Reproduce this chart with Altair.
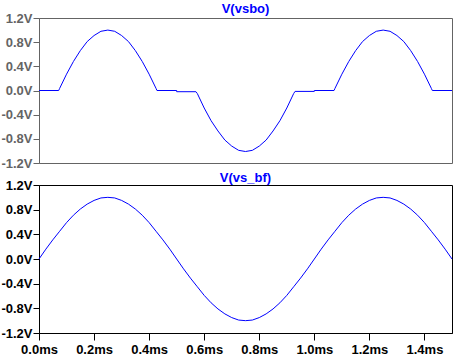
import altair as alt
import pandas as pd

# ---- data ----
# V(vs_bf): time (ms) and volts
t_bf = [0.0, 0.025, 0.05, 0.075, 0.1, 0.125, 0.15, 0.175, 0.2, 0.225,
        0.25, 0.275, 0.3, 0.325, 0.35, 0.375, 0.4, 0.425, 0.45, 0.475,
        0.5, 0.525, 0.55, 0.575, 0.6, 0.625, 0.65, 0.675, 0.7, 0.725,
        0.75, 0.775, 0.8, 0.825, 0.85, 0.875, 0.9, 0.925, 0.95, 0.975,
        1.0, 1.025, 1.05, 1.075, 1.1, 1.125, 1.15, 1.175, 1.2, 1.225,
        1.25, 1.275, 1.3, 1.325, 1.35, 1.375, 1.4, 1.425, 1.45, 1.475, 1.5]
v_bf = [0.0, 0.16, 0.31, 0.45, 0.59, 0.71, 0.81, 0.89, 0.95, 0.99,
        1.0, 0.99, 0.95, 0.89, 0.81, 0.71, 0.59, 0.45, 0.31, 0.16,
        0.0, -0.16, -0.31, -0.45, -0.59, -0.71, -0.81, -0.89, -0.95, -0.99,
        -1.0, -0.99, -0.95, -0.89, -0.81, -0.71, -0.59, -0.45, -0.31, -0.16,
        0.0, 0.16, 0.31, 0.45, 0.59, 0.71, 0.81, 0.89, 0.95, 0.99,
        1.0, 0.99, 0.95, 0.89, 0.81, 0.71, 0.59, 0.45, 0.31, 0.16, 0.0]

# V(vsbo): time (ms) and volts
t_bo = [0.0, 0.0715, 0.075, 0.1, 0.125, 0.15, 0.175, 0.2, 0.225, 0.25,
        0.275, 0.3, 0.325, 0.35, 0.375, 0.4, 0.425, 0.4285, 0.5, 0.5,
        0.57, 0.575, 0.6, 0.625, 0.65, 0.675, 0.7, 0.725, 0.75, 0.775,
        0.8, 0.825, 0.85, 0.875, 0.9, 0.925, 0.93, 1.0, 1.0, 1.0715,
        1.075, 1.1, 1.125, 1.15, 1.175, 1.2, 1.225, 1.25, 1.275, 1.3,
        1.325, 1.35, 1.375, 1.4, 1.425, 1.4285, 1.5]
v_bo = [0.0, 0.0, 0.035, 0.27, 0.48, 0.66, 0.81, 0.91, 0.98, 1.0,
        0.98, 0.91, 0.81, 0.66, 0.48, 0.27, 0.035, 0.0, 0.0, -0.02,
        -0.02, -0.05, -0.29, -0.50, -0.67, -0.82, -0.92, -0.99, -1.01, -0.99,
        -0.92, -0.82, -0.67, -0.50, -0.29, -0.05, -0.015, -0.015, 0.0, 0.0,
        0.035, 0.27, 0.48, 0.66, 0.81, 0.91, 0.98, 1.0, 0.98, 0.91,
        0.81, 0.66, 0.48, 0.27, 0.035, 0.0, 0.0]

y_ticks = [-1.2, -0.8, -0.4, 0.0, 0.4, 0.8, 1.2]
x_ticks = [0.0, 0.2, 0.4, 0.6, 0.8, 1.0, 1.2, 1.4]

df_bf = pd.DataFrame({"t": t_bf, "v": v_bf, "i": list(range(len(t_bf)))})
df_bo = pd.DataFrame({"t": t_bo, "v": v_bo, "i": list(range(len(t_bo)))})

FONT = "Liberation Sans"
GRAY = "#646464"
BLUE = "#0000ff"
ylabel = "(datum.value < 0 ? '-' : '') + format(abs(datum.value), '.1f') + 'V'"
xlabel = "format(datum.value, '.1f') + 'ms'"

xscale = alt.Scale(domain=[0, 1.5], nice=False, zero=False)
yscale = alt.Scale(domain=[-1.2, 1.2], nice=False, zero=False)


def yaxis(color):
    return alt.Axis(values=y_ticks, labelExpr=ylabel, title=None, grid=False,
                    domainColor=color, tickColor=color, labelColor=color,
                    tickSize=6, labelPadding=1, labelFont=FONT, labelFontSize=13,
                    labelFontWeight="bold", labelFlush=False, labelOverlap=False)


def title(text, off):
    return alt.TitleParams(text, color=BLUE, font=FONT, fontSize=13,
                           fontWeight="bold", offset=off, anchor="middle")


top = alt.Chart(df_bo).mark_line(color=BLUE, strokeWidth=1).encode(
    x=alt.X("t:Q", scale=xscale, axis=None),
    y=alt.Y("v:Q", scale=yscale, axis=yaxis(GRAY)),
    order="i:Q",
).properties(width=413, height=145, title=title("V(vsbo)", -4),
             view=alt.ViewBackground(stroke=GRAY, strokeWidth=1))

bottom = alt.Chart(df_bf).mark_line(color=BLUE, strokeWidth=1).encode(
    x=alt.X("t:Q", scale=xscale,
            axis=alt.Axis(values=x_ticks, labelExpr=xlabel, title=None, grid=False,
                          domainColor="black", tickColor="black", labelColor="black",
                          tickSize=7, labelPadding=3, labelFont=FONT, labelFontSize=13,
                          labelFontWeight="bold", labelFlush=False, labelOverlap=False)),
    y=alt.Y("v:Q", scale=yscale, axis=yaxis("black")),
    order="i:Q",
).properties(width=413, height=148, title=title("V(vs_bf)", -6),
             view=alt.ViewBackground(stroke="black", strokeWidth=1))

chart = alt.vconcat(top, bottom, spacing=0).properties(
    padding={"left": 0, "top": 2, "right": 0, "bottom": 0},
    background="white",
)

chart.save("out.html", embed_options={"renderer": "svg", "actions": False})
